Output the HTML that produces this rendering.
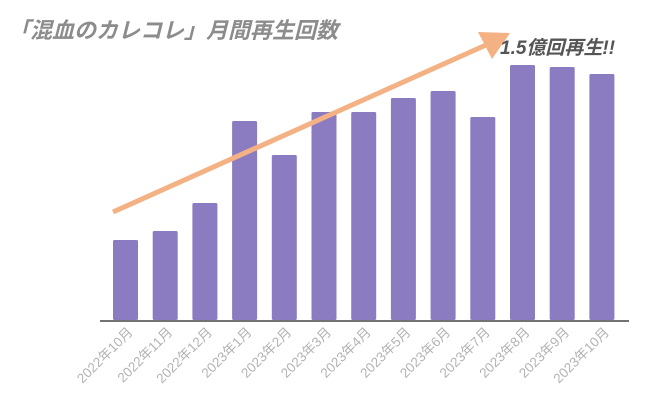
<!DOCTYPE html>
<html><head><meta charset="utf-8"><style>
body{margin:0;background:#fff;}
svg{display:block;font-family:"Liberation Sans","Noto Sans CJK JP",sans-serif;}
</style></head><body>
<svg id="chart" width="650" height="403">
<text x="8" y="38" font-size="22" font-weight="bold" font-style="italic" fill="#8c8c8c">「混血のカレコレ」月間再生回数</text>
<g id="bars"></g>
<line x1="100" y1="321" x2="629" y2="321" stroke="#444" stroke-width="1.5"/>
<g id="labels"></g>
<g>
<line x1="113" y1="212" x2="486" y2="45" stroke="#f4b183" stroke-width="5"/>
<polygon points="510,33 478,32 492,59" fill="#f4b183"/>
</g>
<text x="500" y="54" font-size="19" font-weight="bold" font-style="italic" fill="#555">1.5億回再生!!</text>
</svg>
<script>
const categories=["2022年10月","2022年11月","2022年12月","2023年1月","2023年2月","2023年3月","2023年4月","2023年5月","2023年6月","2023年7月","2023年8月","2023年9月","2023年10月"];
const views=[80,89,117,199,165,208,208,222,229,203,255,253,246];
const ns="http://www.w3.org/2000/svg";
const x0=106,step=39.7,bw=25,baseY=320,yMax=255,plotH=255;
function xPos(i){return x0+i*step;}
function yPos(v){return baseY-v/yMax*plotH;}
const bars=document.getElementById('bars'),labels=document.getElementById('labels');
categories.forEach((c,i)=>{
 const r=document.createElementNS(ns,'rect');
 const y=yPos(views[i]);
 r.setAttribute('x',xPos(i)+7);r.setAttribute('y',y);r.setAttribute('width',bw);r.setAttribute('height',baseY-y);
 r.setAttribute('rx',1.5);r.setAttribute('fill','#8b7cc2');
 
 
 bars.appendChild(r);
 const t=document.createElementNS(ns,'text');
 const cx=xPos(i)+7+bw/2+8, cy=333;
 t.setAttribute('x',cx);t.setAttribute('y',cy);t.setAttribute('text-anchor','end');
 t.setAttribute('font-size','13.5');t.setAttribute('fill','#b3b3b3');
 t.setAttribute('transform','rotate(-45 '+cx+' '+cy+')');
 t.textContent=c;
 
 
 labels.appendChild(t);
});
</script>
</body></html>
